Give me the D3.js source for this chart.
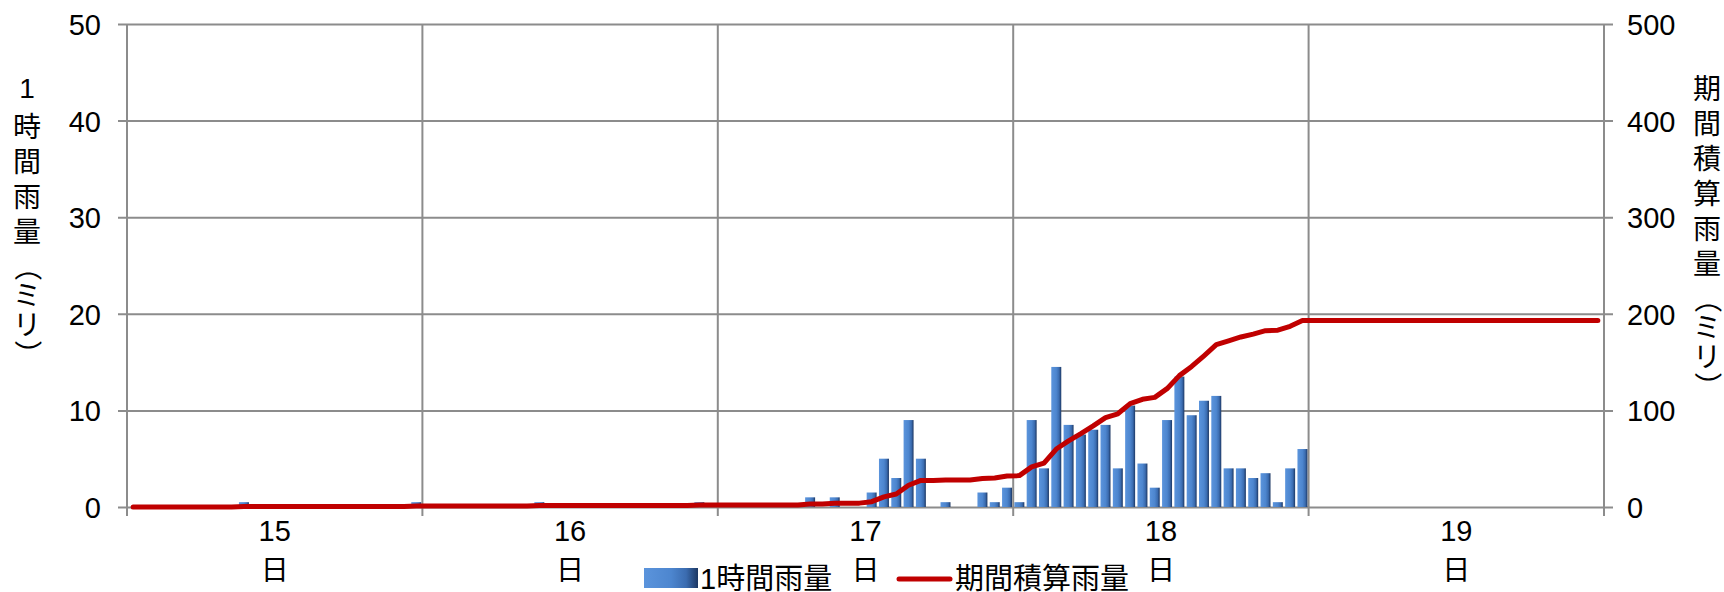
<!DOCTYPE html>
<html><head><meta charset="utf-8">
<script src="https://cdn.jsdelivr.net/npm/d3@7"></script>
<style>
html,body{margin:0;padding:0;background:#fff;}
svg{display:block;}
text{font-family:"Liberation Sans",Arial,"Noto Sans CJK JP",sans-serif;fill:#000;}
.cjk{font-family:"Noto Sans CJK JP","Liberation Sans",sans-serif;}
</style>
</head><body>
<svg id="chart" width="1724" height="592"></svg>
<script>
// ---- data ----
const days = ["15", "16", "17", "18", "19"];
const dayUnit = "日";
const leftTicks = [0, 10, 20, 30, 40, 50];
const rightTicks = [0, 100, 200, 300, 400, 500];
const seriesNames = ["1時間雨量", "期間積算雨量"];
const leftTitle = "1時間雨量（ミリ）";
const rightTitle = "期間積算雨量（ミリ）";
// hourly rainfall, 24 values per day
const hourly15 = [0,0,0,0,0,0,0,0,0,0.5,0,0,0,0,0,0,0,0,0,0,0,0,0,0.5];
const hourly16 = [0,0,0,0,0,0,0,0,0,0.5,0,0,0,0,0,0,0,0,0,0,0,0,0.5,0];
const hourly17 = [0,0,0,0,0,0,0,1,0,1,0,0,1.5,5,3,9,5,0,0.5,0,0,1.5,0.5,2];
const hourly18 = [0.5,9,4,14.5,8.5,7.5,8,8.5,4,10.5,4.5,2,9,13.5,9.5,11,11.5,4,4,3,3.5,0.5,4,6];
const hourly19 = [0,0,0,0,0,0,0,0,0,0,0,0,0,0,0,0,0,0,0,0,0,0,0,0];
// period accumulated rainfall, 24 values per day
const accum15 = [0,0,0,0,0,0,0,0,0,0.5,0.5,0.5,0.5,0.5,0.5,0.5,0.5,0.5,0.5,0.5,0.5,0.5,0.5,1];
const accum16 = [1,1,1,1,1,1,1,1,1,1.5,1.5,1.5,1.5,1.5,1.5,1.5,1.5,1.5,1.5,1.5,1.5,1.5,2,2];
const accum17 = [2,2,2,2,2,2,2,3,3,4,4,4,5.5,10.5,13.5,22.5,27.5,27.5,28,28,28,29.5,30,32];
const accum18 = [32.5,41.5,45.5,60,68.5,76,84,92.5,96.5,107,111.5,113.5,122.5,136,145.5,156.5,168,172,176,179,182.5,183,187,193];
const accum19 = [193,193,193,193,193,193,193,193,193,193,193,193,193,193,193,193,193,193,193,193,193,193,193,193];

const hourly = [].concat(hourly15, hourly16, hourly17, hourly18, hourly19);
const accum = [].concat(accum15, accum16, accum17, accum18, accum19);
const categories = [];
days.forEach(d => { for (let h = 0; h < 24; h++) categories.push(d + "日" + h + "時"); });

// ---- layout ----
const L = 127, R = 1604, T = 24, B = 507;
const svg = d3.select("#chart");
const FS = 29;
const grid = "#8c8c8c";

const x = d3.scaleBand().domain(categories).range([L, R]).paddingInner(0.19).paddingOuter(0.095);
const yL = d3.scaleLinear().domain([0, 50]).range([B, T]);
const yR = d3.scaleLinear().domain([0, 500]).range([B, T]);

const defs = svg.append("defs");
const grad = defs.append("linearGradient").attr("id", "barGrad").attr("x1", 0).attr("x2", 1).attr("y1", 0).attr("y2", 0);
[[0, "#5b94dc"], [0.5, "#4d86cf"], [0.78, "#3b6cb0"], [1, "#1c3763"]].forEach(s =>
  grad.append("stop").attr("offset", s[0]).attr("stop-color", s[1]));

// horizontal gridlines via left axis
const axL = svg.append("g").attr("transform", `translate(${L},0)`)
  .call(d3.axisLeft(yL).tickValues(leftTicks).tickSize(-(R - L)).tickPadding(26).tickFormat(d3.format("d")));
axL.select(".domain").remove();
axL.selectAll(".tick line").attr("x1", -9).attr("x2", R - L + 9).attr("stroke", grid).attr("stroke-width", 2);
axL.selectAll(".tick text").attr("font-size", FS).attr("dy", "0.36em").attr("x", -26)
  .style("font-family", '"Liberation Sans",Arial,sans-serif').attr("fill", "#000");

const axR = svg.append("g").attr("transform", `translate(${R},0)`)
  .call(d3.axisRight(yR).tickValues(rightTicks).tickSize(0).tickFormat(d3.format("d")));
axR.select(".domain").remove();
axR.selectAll(".tick line").remove();
axR.selectAll(".tick text").attr("font-size", FS).attr("dy", "0.36em").attr("x", 23)
  .style("font-family", '"Liberation Sans",Arial,sans-serif').attr("fill", "#000");

// vertical day boundary lines
const step = x.step();
const bounds = d3.range(days.length + 1).map(k => x.range()[0] + k * 24 * step);
svg.append("g").selectAll("line").data(bounds).join("line")
  .attr("x1", d => d).attr("x2", d => d).attr("y1", T).attr("y2", B + 9)
  .attr("stroke", grid).attr("stroke-width", 2);

// bars
svg.append("g").selectAll("rect").data(hourly.map((v, i) => ({ v, c: categories[i] })).filter(d => d.v > 0))
  .join("rect")
  .attr("x", d => x(d.c)).attr("width", x.bandwidth())
  .attr("y", d => yL(d.v)).attr("height", d => yL(0) - yL(d.v))
  .attr("fill", "url(#barGrad)");

// line
const line = d3.line().x((d, i) => x(categories[i]) + x.bandwidth() / 2).y(d => yR(d));
svg.append("path").datum(accum).attr("d", line)
  .attr("fill", "none").attr("stroke", "#c00000").attr("stroke-width", 5)
  .attr("stroke-linejoin", "round").attr("stroke-linecap", "round");

// x labels
const xl = svg.append("g");
days.forEach((d, k) => {
  const cx = bounds[k] + 12 * step;
  xl.append("text").attr("x", cx).attr("y", 541).attr("text-anchor", "middle").attr("font-size", FS).text(d);
  xl.append("text").attr("class", "cjk").attr("x", cx).attr("y", 580).attr("text-anchor", "middle").attr("font-size", FS - 1).text(dayUnit);
});

// stacked axis titles
function stacked(str, cx, y0) {
  const g = svg.append("g");
  let y = y0;
  const chars = Array.from(str);
  chars.forEach((ch, i) => {
    const isParen = ch === "（" || ch === "）";
    const t = g.append("text").attr("x", cx).attr("y", y + 0.36 * FS).attr("text-anchor", "middle")
      .attr("font-size", FS - 1).text(ch);
    if (/[0-9]/.test(ch)) t.style("font-family", '"Liberation Sans",Arial,sans-serif');
    else t.attr("class", "cjk");
    if (isParen) t.attr("transform", `rotate(90,${cx},${y})`);
    const next = chars[i + 1];
    if (next === undefined) return;
    let adv;
    if (/[0-9]/.test(ch)) adv = 39;
    else if (/[\u4e00-\u9fff]/.test(ch)) adv = 35;
    else adv = 29;
    y += adv;
  });
}
stacked(leftTitle, 27, 88);
stacked(rightTitle, 1707, 89);

// legend
const lg = svg.append("g");
lg.append("rect").attr("x", 644).attr("y", 568).attr("width", 54).attr("height", 20).attr("fill", "url(#barGrad)");
lg.append("text").attr("x", 700).attr("y", 589).attr("font-size", FS).attr("class", "cjk")
  .append("tspan").style("font-family", '"Liberation Sans",Arial,sans-serif').text(seriesNames[0].slice(0, 1))
  .select(function () { return this.parentNode; }).append("tspan").text(seriesNames[0].slice(1));
lg.append("line").attr("x1", 899).attr("x2", 950).attr("y1", 579).attr("y2", 579)
  .attr("stroke", "#c00000").attr("stroke-width", 5).attr("stroke-linecap", "round");
lg.append("text").attr("class", "cjk").attr("x", 955).attr("y", 589).attr("font-size", FS).text(seriesNames[1]);
</script>
</body></html>
